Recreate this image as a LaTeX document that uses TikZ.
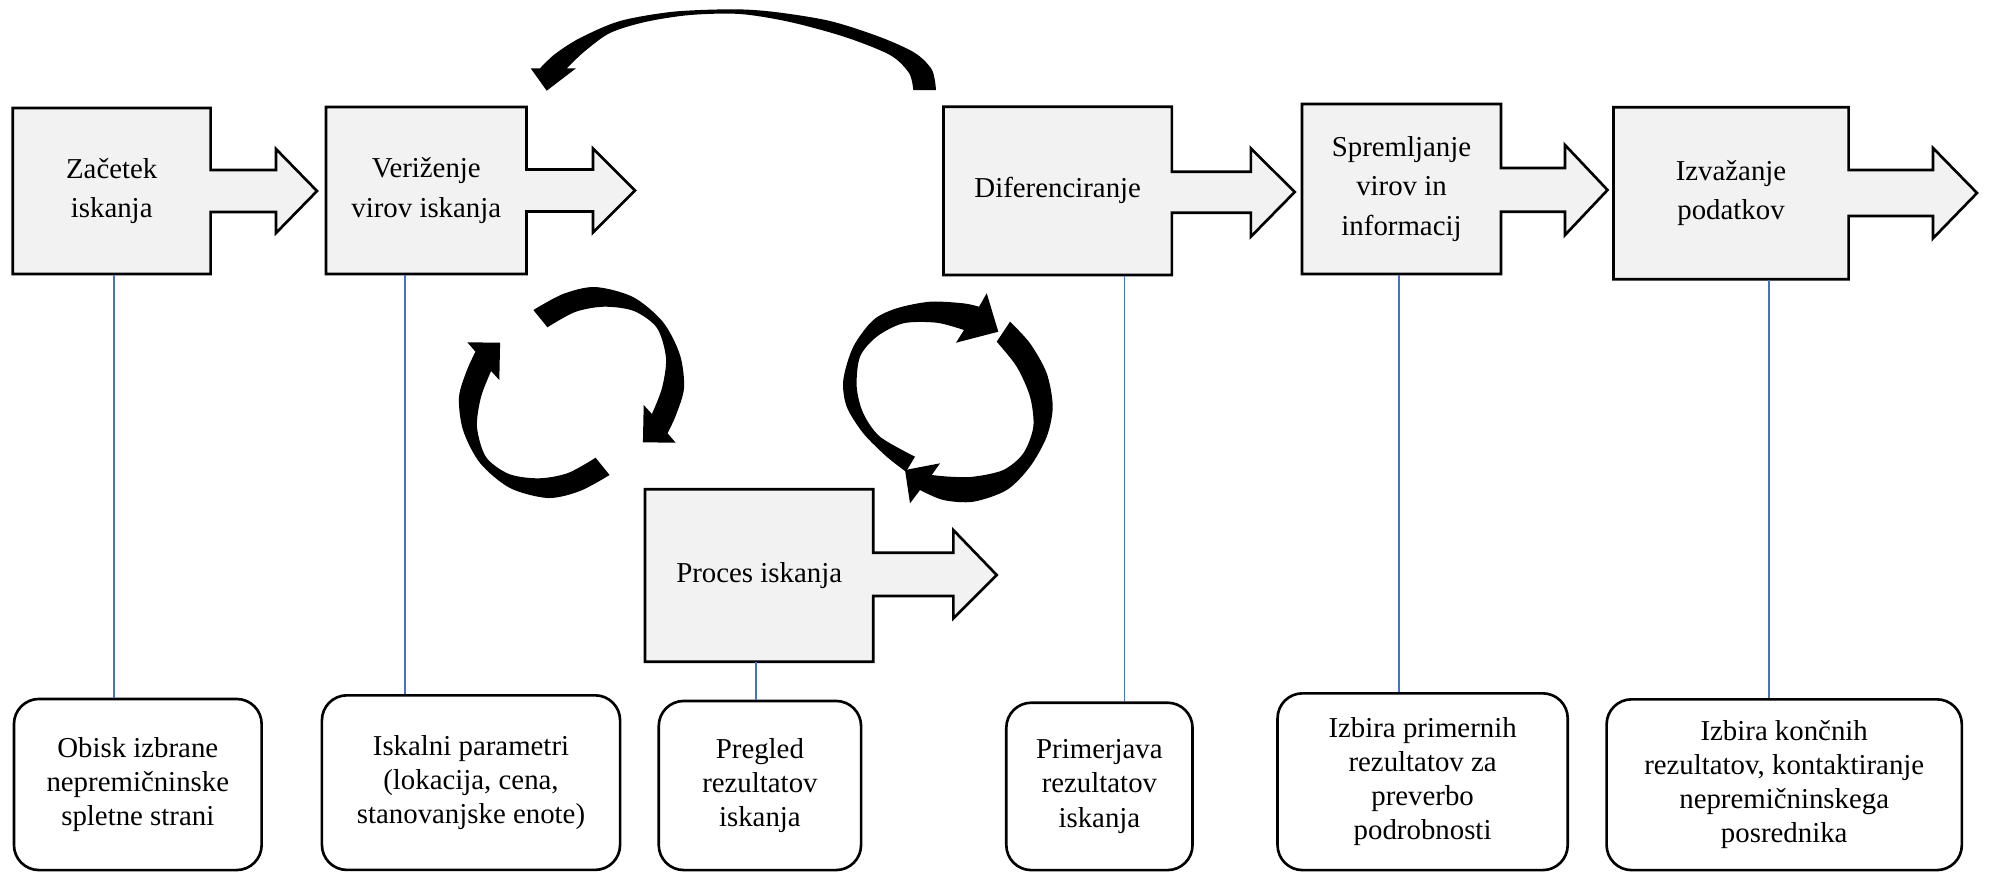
\documentclass[tikz,border=0pt]{standalone}
\usepackage{fontspec}
\setmainfont{Liberation Serif}
\usepackage{tikz}
\usepackage{color}
\definecolor{boxgray}{HTML}{F2F2F2}
\definecolor{linkblue}{HTML}{4472C4}
\tikzset{
	blockarrow/.style={draw=black, fill=boxgray, line width=0.75pt, line join=miter},
	boxtext/.style={rectangle, inner sep=0pt, align=center, font=\fontsize{8.2}{11.2}\selectfont},
	notebox/.style={draw=black, rounded corners=0.25cm, line width=0.75pt, inner sep=0pt, align=center, font=\fontsize{8.2}{9.7}\selectfont},
	link/.style={draw=linkblue, line width=0.45pt},
	turnarrow/.style={fill=black}
}

\begin{document}
\begin{tikzpicture}[x=0.01cm,y=-0.01cm]
		\useasboundingbox (0,0) rectangle (1989,872);
		%top row
		\draw[blockarrow] (12.7,108) -- (210.6,108) -- (210.6,170) -- (276,170) -- (276,149) -- (317,191) -- (276,233) -- (276,212) -- (210.6,212) -- (210.6,274) -- (12.7,274) -- cycle;
		\node[boxtext, minimum width=1.98cm, minimum height=1.66cm] (zacetek) at (111.7,191) {Začetek\\iskanja};
		\draw[blockarrow] (326,107) -- (526.5,107) -- (526.5,169.5) -- (593,169.5) -- (593,148.5) -- (635,190.5) -- (593,232.5) -- (593,211.5) -- (526.5,211.5) -- (526.5,274) -- (326,274) -- cycle;
		\node[boxtext, minimum width=2.005cm, minimum height=1.67cm] (verizenje) at (426.3,190.5) {Veriženje\\virov iskanja};
		\draw[blockarrow] (943.5,106.7) -- (1171.8,106.7) -- (1171.8,171.7) -- (1250.8,171.7) -- (1250.8,148.3) -- (1294.7,192) -- (1250.8,236.7) -- (1250.8,212.7) -- (1171.8,212.7) -- (1171.8,275) -- (943.5,275) -- cycle;
		\node[boxtext, minimum width=2.283cm, minimum height=1.683cm] (difer) at (1057.7,190.9) {Diferenciranje};
		\draw[blockarrow] (1302,104) -- (1501,104) -- (1501,168) -- (1565,168) -- (1565,145) -- (1607.5,190) -- (1565,235) -- (1565,211.7) -- (1501,211.7) -- (1501,274) -- (1302,274) -- cycle;
		\node[boxtext, minimum width=1.99cm, minimum height=1.70cm] (spremljanje) at (1401.5,189) {Spremljanje\\virov in\\informacij};
		\draw[blockarrow] (1613.5,107.3) -- (1848.6,107.3) -- (1848.6,170) -- (1933,170) -- (1933,148) -- (1977,193) -- (1933,238.3) -- (1933,216) -- (1848.6,216) -- (1848.6,279.3) -- (1613.5,279.3) -- cycle;
		\node[boxtext, minimum width=2.351cm, minimum height=1.72cm] (izvazanje) at (1731,193.3) {Izvažanje\\podatkov};
		%middle
		\draw[blockarrow] (645,489.3) -- (873.3,489.3) -- (873.3,552.7) -- (953.3,552.7) -- (953.3,530) -- (996.7,575) -- (953.3,618.3) -- (953.3,596) -- (873.3,596) -- (873.3,661.7) -- (645,661.7) -- cycle;
		\node[boxtext, minimum width=2.283cm, minimum height=1.724cm] (proces) at (759.2,575.5) {Proces iskanja};
		%bottom row
		\node[notebox, minimum width=2.475cm, minimum height=1.71cm] (obisk) at (137.8,784.5) {Obisk izbrane\\nepremičninske\\spletne strani};
		\node[notebox, minimum width=2.98cm, minimum height=1.745cm] (parametri) at (471,782.6) {Iskalni parametri\\(lokacija, cena,\\stanovanjske enote)};
		\node[notebox, minimum width=2.022cm, minimum height=1.69cm] (pregled) at (759.9,785.5) {Pregled\\rezultatov\\iskanja};
		\node[notebox, minimum width=1.861cm, minimum height=1.673cm] (primerjava) at (1099.4,786.4) {Primerjava\\rezultatov\\iskanja};
		\node[notebox, minimum width=2.90cm, minimum height=1.767cm] (izbira) at (1422.6,781.7) {Izbira primernih\\rezultatov za\\preverbo\\podrobnosti};
		\node[notebox, minimum width=3.55cm, minimum height=1.707cm] (koncni) at (1784.2,784.7) {Izbira končnih\\rezultatov, kontaktiranje\\nepremičninskega\\posrednika};
		%links
		\draw[link] ([xshift=0.023cm]zacetek.south) -- ([xshift=0.023cm]zacetek.south |- obisk.north);
		\draw[link] ([xshift=-0.213cm]verizenje.south) -- ([xshift=-0.213cm]verizenje.south |- parametri.north);
		\draw[link] ([xshift=-0.03cm]proces.south) -- ([xshift=-0.03cm]proces.south |- pregled.north);
		\draw[link] ([xshift=0.667cm]difer.south) -- ([xshift=0.667cm]difer.south |- primerjava.north);
		\draw[link] ([xshift=-0.025cm]spremljanje.south) -- ([xshift=-0.025cm]spremljanje.south |- izbira.north);
		\draw[link] ([xshift=0.38cm]izvazanje.south) -- ([xshift=0.38cm]izvazanje.south |- koncni.north);
		%back arrow
		\fill[turnarrow] plot[smooth] coordinates {(936,90) (932,70) (915,53) (880,37) (830,21) (775,12) (733.3,9.3) (673.3,11.7) (620,21) (580,38) (555,54) (540,68.3)} -- (530.7,68.3) -- (546.7,90.7) -- (576,68.3) -- plot[smooth] coordinates {(566.7,68.3) (585,51) (610,33) (645,22) (690,15) (740,14) (790,22) (845,37) (890,55) (909,73) (913.3,90)} -- cycle;
		%loop left
		\fill[turnarrow] plot[smooth] coordinates {(533.4,310) (563,294) (595,287) (633,297) (663,322) (680,355) (684,388) (676,415) (667.5,433.3)} -- (675.7,442.7) -- (642.9,442.3) -- (643.7,405) -- plot[smooth] coordinates {(651.9,414) (662,388) (666,358) (657,328) (634,311) (604,306.7) (575,312) (547.4,327.3)} -- cycle;
		\fill[turnarrow, rotate around={180:(571.5,392.5)}] plot[smooth] coordinates {(533.4,310) (563,294) (595,287) (633,297) (663,322) (680,355) (684,388) (676,415) (667.5,433.3)} -- (675.7,442.7) -- (642.9,442.3) -- (643.7,405) -- plot[smooth] coordinates {(651.9,414) (662,388) (666,358) (657,328) (634,311) (604,306.7) (575,312) (547.4,327.3)} -- cycle;
		%loop right
		\fill[turnarrow] plot[smooth] coordinates {(906,471.7) (886.7,456.7) (863.3,433.3) (846.7,406.7) (843.3,380) (853.3,346.7) (873.3,320) (896.7,308.3) (930,301.7) (963.3,303.3) (979,306.7)} -- (986.7,293.3) -- (998.3,331.7) -- (956,342.7) -- plot[smooth] coordinates {(964,330) (936.7,322.7) (903.3,323.3) (876.7,336.7) (860,356.7) (856.7,386.7) (863.3,413.3) (880,436.7) (915,456.7)} -- cycle;
		\fill[turnarrow] plot[smooth] coordinates {(1010,321.7) (1030,343.3) (1046.7,373.3) (1052.7,406.7) (1046.7,436.7) (1030,466.7) (1006.7,490) (973.3,501.7) (943.3,500) (920,490)} -- (910,503.3) -- (905,470) -- (940,463.3) -- plot[smooth] coordinates {(931.7,475) (950,476.7) (973.3,476.7) (1003.3,470) (1023.3,453.3) (1033.3,426.7) (1030,396.7) (1016.7,366.7) (996.7,341.7)} -- cycle;
\end{tikzpicture}
\end{document}
